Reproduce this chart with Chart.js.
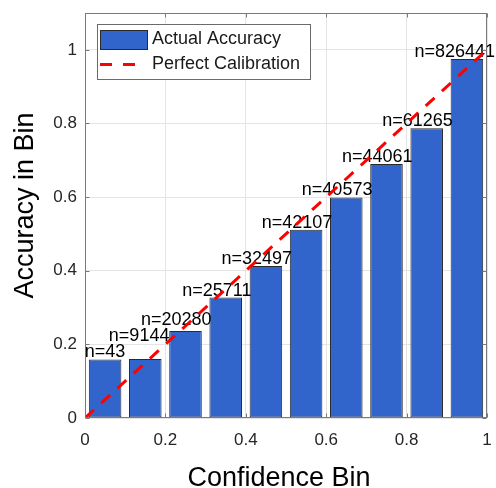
<!DOCTYPE html>
<html>
<head>
<meta charset="utf-8">
<script src="https://cdn.jsdelivr.net/npm/chart.js@4.4.1/dist/chart.umd.min.js"></script>
<style>
  html, body { margin: 0; padding: 0; background: #ffffff; }
  #wrap { width: 496px; height: 488px; }
</style>
</head>
<body>
<div id="wrap"><canvas id="c" width="496" height="488"></canvas></div>
<script>
// Reliability diagram: accuracy per confidence bin against the ideal diagonal
const binCenters  = [0.05, 0.15, 0.25, 0.35, 0.45, 0.55, 0.65, 0.75, 0.85, 0.95];
const binAccuracy = [0.159, 0.160, 0.236, 0.327, 0.413, 0.511, 0.599, 0.690, 0.787, 0.975];
const binCounts   = [43, 9144, 20280, 25711, 32497, 42107, 40573, 44061, 61265, 826441];
const idealX      = [0, 1];
const idealY      = [0, 1];
const xTicks      = [0, 0.2, 0.4, 0.6, 0.8, 1];
const yTicks      = [0, 0.2, 0.4, 0.6, 0.8, 1];
const seriesNames = ['Actual Accuracy', 'Perfect Calibration'];
const xTitle      = 'Confidence Bin';
const yTitle      = 'Accuracy in Bin';

const FONT = "'Liberation Sans', Arial, Helvetica, sans-serif";
const AXIS_COLOR = '#7a7a7a';
const TEXT_COLOR = '#262626';
const BAR_FILL = '#3265cc';
const BAR_EDGE = '#2a2a2a';
const LINE_COLOR = '#ff0000';
const LINE_DASH = [12, 10];

// count labels above each bar, nudged upward when they would collide
function drawCountLabels(chart, meta) {
  const ctx = chart.ctx;
  const fs = 18;
  ctx.save();
  ctx.font = fs + 'px ' + FONT;
  ctx.fillStyle = '#000000';
  ctx.textAlign = 'left';
  ctx.textBaseline = 'alphabetic';
  const placed = [];
  const asc = 0.8 * fs, desc = 0.1 * fs;
  meta.data.forEach((bar, i) => {
    const text = 'n=' + binCounts[i];
    const w = ctx.measureText(text).width;
    const cx = bar.x - 0.3 * Math.max(0, w - 40);
    const x0 = cx - w / 2, x1 = cx + w / 2;
    let base = bar.y - 2;
    placed.forEach(p => {
      if (x0 < p.x1 && x1 > p.x0 && base + desc > p.top && base - asc < p.bottom) {
        base = p.top - desc;
      }
    });
    placed.push({ x0, x1, top: base - asc, bottom: base + desc });
    ctx.fillText(text, x0, base);
  });
  ctx.restore();
}

const decorations = {
  id: 'decorations',
  afterDatasetDraw(chart, args) {
    if (args.meta.type === 'bar') drawCountLabels(chart, args.meta);
  },
  afterDraw(chart) {
    const ctx = chart.ctx;
    const { left, right, top, bottom } = chart.chartArea;
    const xs = chart.scales.x, ys = chart.scales.y;
    const L = Math.round(left) + 0.5, R = Math.round(right) - 0.5;
    const T = Math.round(top) + 0.5, B = Math.round(bottom) - 0.5;

    // axes box with inward ticks on all four sides
    ctx.save();
    ctx.strokeStyle = AXIS_COLOR;
    ctx.lineWidth = 1;
    ctx.strokeRect(L, T, R - L, B - T);
    ctx.beginPath();
    const tl = 4;
    xTicks.forEach(v => {
      const px = Math.round(xs.getPixelForValue(v)) + 0.5;
      ctx.moveTo(px, B); ctx.lineTo(px, B - tl);
      ctx.moveTo(px, T); ctx.lineTo(px, T + tl);
    });
    yTicks.forEach(v => {
      const py = Math.round(ys.getPixelForValue(v)) + 0.5;
      ctx.moveTo(L, py); ctx.lineTo(L + tl, py);
      ctx.moveTo(R, py); ctx.lineTo(R - tl, py);
    });
    ctx.stroke();
    ctx.restore();

    // axis titles
    ctx.save();
    ctx.fillStyle = '#000000';
    ctx.font = '27px ' + FONT;
    ctx.textAlign = 'center';
    ctx.textBaseline = 'alphabetic';
    ctx.fillText(xTitle, (left + right) / 2 - 7, 486);
    ctx.translate(33, (top + bottom) / 2 - 10);
    ctx.rotate(-Math.PI / 2);
    ctx.fillText(yTitle, 0, 0);
    ctx.restore();

    // legend box in the upper-left corner of the axes
    ctx.save();
    ctx.font = '18px ' + FONT;
    const maxW = Math.max(...seriesNames.map(s => ctx.measureText(s).width));
    const bx = left + 12, by = top + 11;
    const bw = 3 + 47 + 5 + maxW + 10, bh = 55;
    ctx.fillStyle = '#ffffff';
    ctx.fillRect(bx, by, bw, bh);
    ctx.strokeStyle = '#6a6a6a';
    ctx.lineWidth = 1;
    ctx.strokeRect(Math.round(bx) + 0.5, Math.round(by) + 0.5, Math.round(bw), bh);
    const row1 = by + 15.5, row2 = by + 40.5;
    const sx = bx + 3, sw = 47;
    const barDs = chart.data.datasets[0], lineDs = chart.data.datasets[1];
    ctx.fillStyle = barDs.backgroundColor;
    ctx.fillRect(sx, row1 - 9.5, sw, 19);
    ctx.strokeStyle = barDs.borderColor;
    ctx.strokeRect(Math.round(sx) + 0.5, Math.round(row1 - 9.5) + 0.5, sw, 19);
    ctx.strokeStyle = lineDs.borderColor;
    ctx.lineWidth = lineDs.borderWidth;
    ctx.setLineDash([12, 11]);
    ctx.beginPath();
    ctx.moveTo(sx, row2); ctx.lineTo(sx + 38, row2);
    ctx.stroke();
    ctx.setLineDash([]);
    ctx.fillStyle = '#1a1a1a';
    ctx.textAlign = 'left';
    ctx.textBaseline = 'middle';
    ctx.fillText(barDs.label, sx + sw + 5, row1);
    ctx.fillText(lineDs.label, sx + sw + 5, row2);
    ctx.restore();
  }
};

function zeroPadding(s) {
  s.paddingTop = 0; s.paddingBottom = 0; s.paddingLeft = 0; s.paddingRight = 0;
}

new Chart(document.getElementById('c'), {
  type: 'bar',
  data: {
    datasets: [
      {
        type: 'bar',
        label: seriesNames[0],
        data: binCenters.map((x, i) => ({ x: x, y: binAccuracy[i] })),
        backgroundColor: BAR_FILL,
        borderColor: BAR_EDGE,
        borderWidth: 1,
        borderSkipped: false,
        barPercentage: 0.81,
        categoryPercentage: 1,
        order: 1
      },
      {
        type: 'line',
        label: seriesNames[1],
        data: idealX.map((x, i) => ({ x: x, y: idealY[i] })),
        borderColor: LINE_COLOR,
        borderWidth: 3,
        borderDash: LINE_DASH,
        pointRadius: 0,
        fill: false,
        order: 0
      }
    ]
  },
  options: {
    responsive: false,
    devicePixelRatio: 1,
    animation: false,
    layout: { padding: { left: 0, right: 9, top: 13, bottom: 0 } },
    plugins: { legend: { display: false }, tooltip: { enabled: false } },
    scales: {
      x: {
        type: 'linear',
        min: 0, max: 1,
        offset: false,
        grid: { offset: false, color: '#e4e4e4', drawTicks: false },
        border: { display: false },
        afterBuildTicks: s => { s.ticks = xTicks.map(v => ({ value: v })); },
        afterFit: s => { s.height = 70; zeroPadding(s); },
        ticks: {
          autoSkip: false, maxRotation: 0, padding: 12,
          color: TEXT_COLOR, font: { family: FONT, size: 17 },
          callback: v => String(v)
        }
      },
      y: {
        type: 'linear',
        min: 0, max: 1.1,
        grid: { color: '#e4e4e4', drawTicks: false },
        border: { display: false },
        afterBuildTicks: s => { s.ticks = yTicks.map(v => ({ value: v })); },
        afterFit: s => { s.width = 85; zeroPadding(s); },
        ticks: {
          padding: 8,
          color: TEXT_COLOR, font: { family: FONT, size: 17 },
          callback: v => String(v)
        }
      }
    }
  },
  plugins: [decorations]
});
</script>
</body>
</html>
